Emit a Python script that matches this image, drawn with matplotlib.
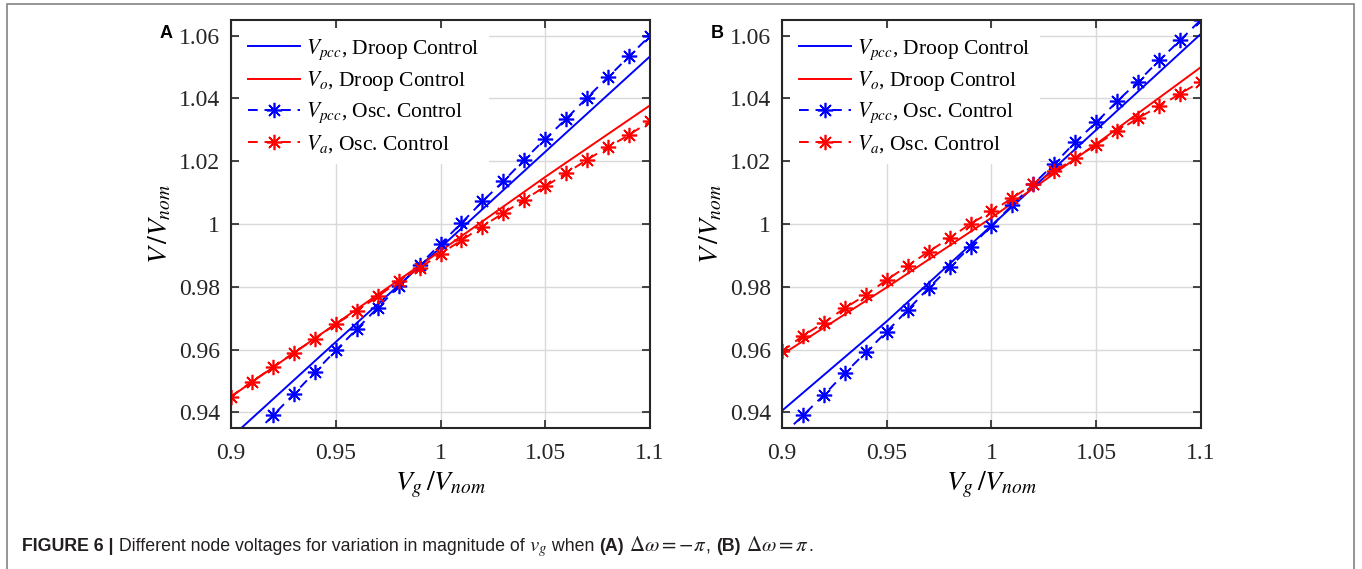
import numpy as np
import matplotlib
matplotlib.use('Agg')
import matplotlib.pyplot as plt
from matplotlib.patches import Rectangle

plt.rcParams['font.family'] = ['Liberation Serif', 'DejaVu Serif']
plt.rcParams['mathtext.fontset'] = 'stix'

# grid voltage points (per unit) used by the oscillator-control simulations
vg = [0.90, 0.91, 0.92, 0.93, 0.94, 0.95, 0.96, 0.97, 0.98, 0.99, 1.00,
      1.01, 1.02, 1.03, 1.04, 1.05, 1.06, 1.07, 1.08, 1.09, 1.10]
# droop control curves are smooth lines, read at a few points
vg_droop = [0.90, 0.95, 1.00, 1.05, 1.10]

# panel A: delta omega = -pi
a_vpcc_droop = [0.9320, 0.9624, 0.9925, 1.0230, 1.0534]
a_vo_droop = [0.9450, 0.9682, 0.9914, 1.0150, 1.0378]
a_vpcc_osc = [0.9253, 0.9322, 0.9390, 0.9458, 0.9528, 0.9597, 0.9665, 0.9733,
              0.9801, 0.9870, 0.9936, 1.0003, 1.0072, 1.0136, 1.0205, 1.0271,
              1.0335, 1.0403, 1.0468, 1.0534, 1.0600]
a_va_osc = [0.9450, 0.9498, 0.9543, 0.9590, 0.9634, 0.9681, 0.9723, 0.9769,
            0.9817, 0.9859, 0.9905, 0.9948, 0.9992, 1.0035, 1.0077, 1.0120,
            1.0162, 1.0205, 1.0245, 1.0284, 1.0327]

# panel B: delta omega = +pi
b_vpcc_droop = [0.9405, 0.9690, 0.9995, 1.0300, 1.0606]
b_vo_droop = [0.9584, 0.9798, 1.0020, 1.0255, 1.0500]
b_vpcc_osc = [0.9325, 0.9390, 0.9455, 0.9525, 0.9591, 0.9657, 0.9726, 0.9796,
              0.9862, 0.9928, 0.9994, 1.0061, 1.0127, 1.0192, 1.0261, 1.0324,
              1.0391, 1.0454, 1.0521, 1.0585, 1.0651]
b_va_osc = [0.9594, 0.9644, 0.9686, 0.9732, 0.9774, 0.9822, 0.9867, 0.9912,
            0.9955, 1.0001, 1.0040, 1.0083, 1.0128, 1.0168, 1.0210, 1.0253,
            1.0295, 1.0338, 1.0375, 1.0415, 1.0454]

xticks = [0.9, 0.95, 1.0, 1.05, 1.1]
xticklabels = ['0.9', '0.95', '1', '1.05', '1.1']
yticks = [0.94, 0.96, 0.98, 1.0, 1.02, 1.04, 1.06]
yticklabels = ['0.94', '0.96', '0.98', '1', '1.02', '1.04', '1.06']

labels = [r'$V_{pcc}$, Droop Control', r'$V_o$, Droop Control',
          r'$V_{pcc}$, Osc. Control', r'$V_a$, Osc. Control']

W, H = 1362, 569
fig = plt.figure(figsize=(W / 100, H / 100), dpi=100)

ast = (8, 2, 0)


def panel(left, data, letter):
    ax = fig.add_axes([left / W, 1 - 428 / H, 419 / W, 408 / H])
    vpcc_d, vo_d, vpcc_o, va_o = data
    ax.plot(vg_droop, vpcc_d, color='#0000ff', lw=1.4, label=labels[0])
    ax.plot(vg_droop, vo_d, color='#ff0000', lw=1.4, label=labels[1])
    ax.plot(vg, vpcc_o, color='#0000ff', lw=1.4, ls=(0, (5, 3.5)),
            marker=ast, ms=11, mew=1.2, label=labels[2])
    ax.plot(vg, va_o, color='#ff0000', lw=1.4, ls=(0, (5, 3.5)),
            marker=ast, ms=11, mew=1.2, label=labels[3])
    ax.set_xlim(0.9, 1.1)
    ax.set_ylim(0.935, 1.065)
    ax.set_xticks(xticks)
    ax.set_xticklabels(xticklabels)
    ax.set_yticks(yticks)
    ax.set_yticklabels(yticklabels)
    ax.tick_params(direction='in', top=True, right=True, length=6, width=1.2,
                   labelsize=17, colors='#262626', pad=8)
    ax.tick_params(axis='x', pad=11)
    ax.grid(True, color='#d9d9d9', lw=1.0)
    ax.set_axisbelow(True)
    for s in ax.spines.values():
        s.set_linewidth(1.5)
        s.set_color('#262626')
    ax.set_xlabel(r'$V_g\,/V_{nom}$', fontsize=20, labelpad=4)
    ax.set_ylabel(r'$V\,/V_{nom}$', fontsize=20, labelpad=4)
    ax.legend(loc='upper left', fontsize=15.5, frameon=True,
              facecolor='white', edgecolor='none', framealpha=1,
              handlelength=2.4, handletextpad=0.3, labelspacing=0.35,
              borderaxespad=0.35, borderpad=0.45, fancybox=False)
    fig.text((left - 71) / W, 1 - 34 / H, letter, fontsize=13, fontweight='bold',
             family=['Liberation Sans', 'DejaVu Sans'], va='center', ha='left')
    return ax


panel(231, (a_vpcc_droop, a_vo_droop, a_vpcc_osc, a_va_osc), 'A')
panel(782, (b_vpcc_droop, b_vo_droop, b_vpcc_osc, b_va_osc), 'B')

# caption frame
fig.add_artist(Rectangle((7 / W, -0.1), (1354 - 7) / W, 1.1 - 4.5 / H,
                         transform=fig.transFigure, fill=False,
                         edgecolor='#8c8c8c', lw=1.3))

# caption with mixed bold / math pieces, laid out left to right
sans = ['Liberation Sans Narrow', 'Liberation Sans', 'DejaVu Sans']
pieces = [
    ('FIGURE 6 |', 'bold', 12.8),
    (' Different node voltages for variation in magnitude of ', 'normal', 12.8),
    (r'$v_g$', 'normal', 15),
    (' when ', 'normal', 12.8),
    ('(A)', 'bold', 12.8),
    (r'$\ \Delta\omega = -\pi$', 'normal', 15),
    (', ', 'normal', 12.8),
    ('(B)', 'bold', 12.8),
    (r'$\ \Delta\omega = \pi$', 'normal', 15),
    ('.', 'normal', 12.8),
]
fig.canvas.draw()
renderer = fig.canvas.get_renderer()
x = 22
for txt, wt, fs in pieces:
    t = fig.text(x / W, 1 - 551 / H, txt, fontsize=fs, fontweight=wt,
                 family=sans, va='baseline', ha='left', color='#231f20')
    bb = t.get_window_extent(renderer)
    x += bb.width

fig.savefig('out.png', dpi=100)
